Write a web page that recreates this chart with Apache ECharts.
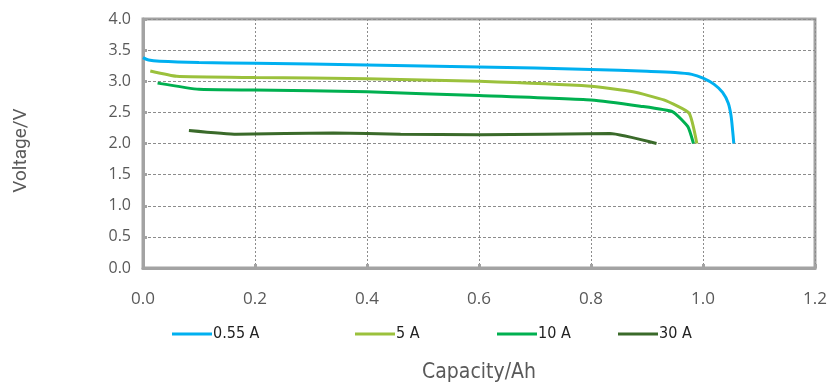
<!DOCTYPE html>
<html>
<head>
<meta charset="utf-8">
<script src="https://cdn.jsdelivr.net/npm/echarts@6/dist/echarts.min.js"></script>
<style>
  html, body { margin: 0; padding: 0; background: #fff; }
  #main { width: 829px; height: 392px; }
</style>
</head>
<body>
<div id="main"></div>
<script>
// discharge curves, capacity (Ah) vs voltage (V)
const seriesNames = ['0.55 A', '5 A', '10 A', '30 A'];
const seriesColors = ['#00B0F0', '#9BC13C', '#00B050', '#3A6A2A'];

const cap055 = [0.0, 0.01, 0.03, 0.1, 0.2, 0.4, 0.6, 0.8, 0.9, 0.95, 0.98, 1.0, 1.02, 1.035, 1.045, 1.05, 1.053, 1.055];
const volt055 = [3.38, 3.34, 3.32, 3.30, 3.29, 3.26, 3.23, 3.19, 3.16, 3.14, 3.11, 3.05, 2.95, 2.82, 2.65, 2.45, 2.2, 2.0];

const cap5 = [0.013, 0.06, 0.2, 0.4, 0.6, 0.8, 0.875, 0.93, 0.975, 0.989];
const volt5 = [3.165, 3.08, 3.06, 3.04, 3.00, 2.92, 2.83, 2.70, 2.49, 2.0];

const cap10 = [0.026, 0.1, 0.2, 0.4, 0.6, 0.8, 0.888, 0.946, 0.973, 0.983];
const volt10 = [2.97, 2.87, 2.86, 2.83, 2.77, 2.70, 2.60, 2.51, 2.27, 2.0];

const cap30 = [0.082, 0.167, 0.34, 0.46, 0.6, 0.834, 0.917];
const volt30 = [2.21, 2.15, 2.17, 2.15, 2.14, 2.16, 2.0];

const xTicks = ['0.0', '0.2', '0.4', '0.6', '0.8', '1.0', '1.2'];
const yTicks = ['0.0', '0.5', '1.0', '1.5', '2.0', '2.5', '3.0', '3.5', '4.0'];

const caps = [cap055, cap5, cap10, cap30];
const volts = [volt055, volt5, volt10, volt30];

const pair = (xs, ys) => xs.map((x, i) => [x, ys[i]]);

const axisGray = '#A3A3A3';
const labelFont = '"Open Sans", "Noto Sans", sans-serif';
const narrowFont = '"Liberation Sans Narrow", "DejaVu Sans Condensed", "Noto Sans", sans-serif';

// legend entries sit at uneven positions, like the original
const legendLeft = [172, 355, 497, 618];

const chart = echarts.init(document.getElementById('main'));

const option = {
  animation: false,
  grid: {
    left: 143, right: 14, top: 19, bottom: 124,
    outerBoundsMode: 'none',
    show: true,
    borderColor: axisGray,
    borderWidth: 3
  },
  legend: seriesNames.map((n, i) => ({
    data: [n],
    left: legendLeft[i],
    top: 326,
    padding: 0,
    itemWidth: 40,
    itemHeight: 3,
    itemGap: 0,
    icon: 'rect',
    textStyle: { color: '#222', fontSize: 16, fontFamily: narrowFont, padding: [0, 0, 0, -4] }
  })),
  xAxis: {
    type: 'value',
    min: 0, max: 1.2, interval: 0.2,
    name: 'Capacity/Ah',
    nameLocation: 'middle',
    nameGap: 94,
    nameTextStyle: { color: '#595959', fontSize: 21, fontFamily: narrowFont },
    axisLine: { show: true, lineStyle: { color: axisGray, width: 3 } },
    axisTick: { show: true, inside: true, length: 4, lineStyle: { color: axisGray, width: 3 } },
    axisLabel: {
      margin: 23,
      color: '#595959', fontSize: 17, fontFamily: labelFont,
      formatter: v => xTicks[Math.round(v / 0.2)]
    },
    splitLine: { show: true, lineStyle: { color: '#8C8C8C', width: 1, type: [2, 2] } }
  },
  yAxis: {
    type: 'value',
    min: 0, max: 4, interval: 0.5,
    name: 'Voltage/V',
    nameLocation: 'middle',
    nameGap: 112,
    nameRotate: 90,
    nameTextStyle: { color: '#595959', fontSize: 19, fontFamily: '"Roboto", sans-serif', padding: [0, 0, 0, -14] },
    axisLine: { show: true, lineStyle: { color: axisGray, width: 3 } },
    axisTick: { show: true, inside: true, length: 4, lineStyle: { color: axisGray, width: 3 } },
    axisLabel: {
      margin: 12,
      color: '#595959', fontSize: 16, fontFamily: labelFont,
      formatter: v => yTicks[Math.round(v / 0.5)]
    },
    splitLine: { show: true, lineStyle: { color: '#8C8C8C', width: 1, type: [3, 2] } }
  },
  series: seriesNames.map((n, i) => ({
    name: n,
    type: 'line',
    showSymbol: false,
    smooth: i === 0 ? 0.3 : 0.15,
    lineStyle: { color: seriesColors[i], width: 3 },
    itemStyle: { color: seriesColors[i] },
    data: pair(caps[i], volts[i])
  }))
};

chart.setOption(option);
</script>
</body>
</html>
